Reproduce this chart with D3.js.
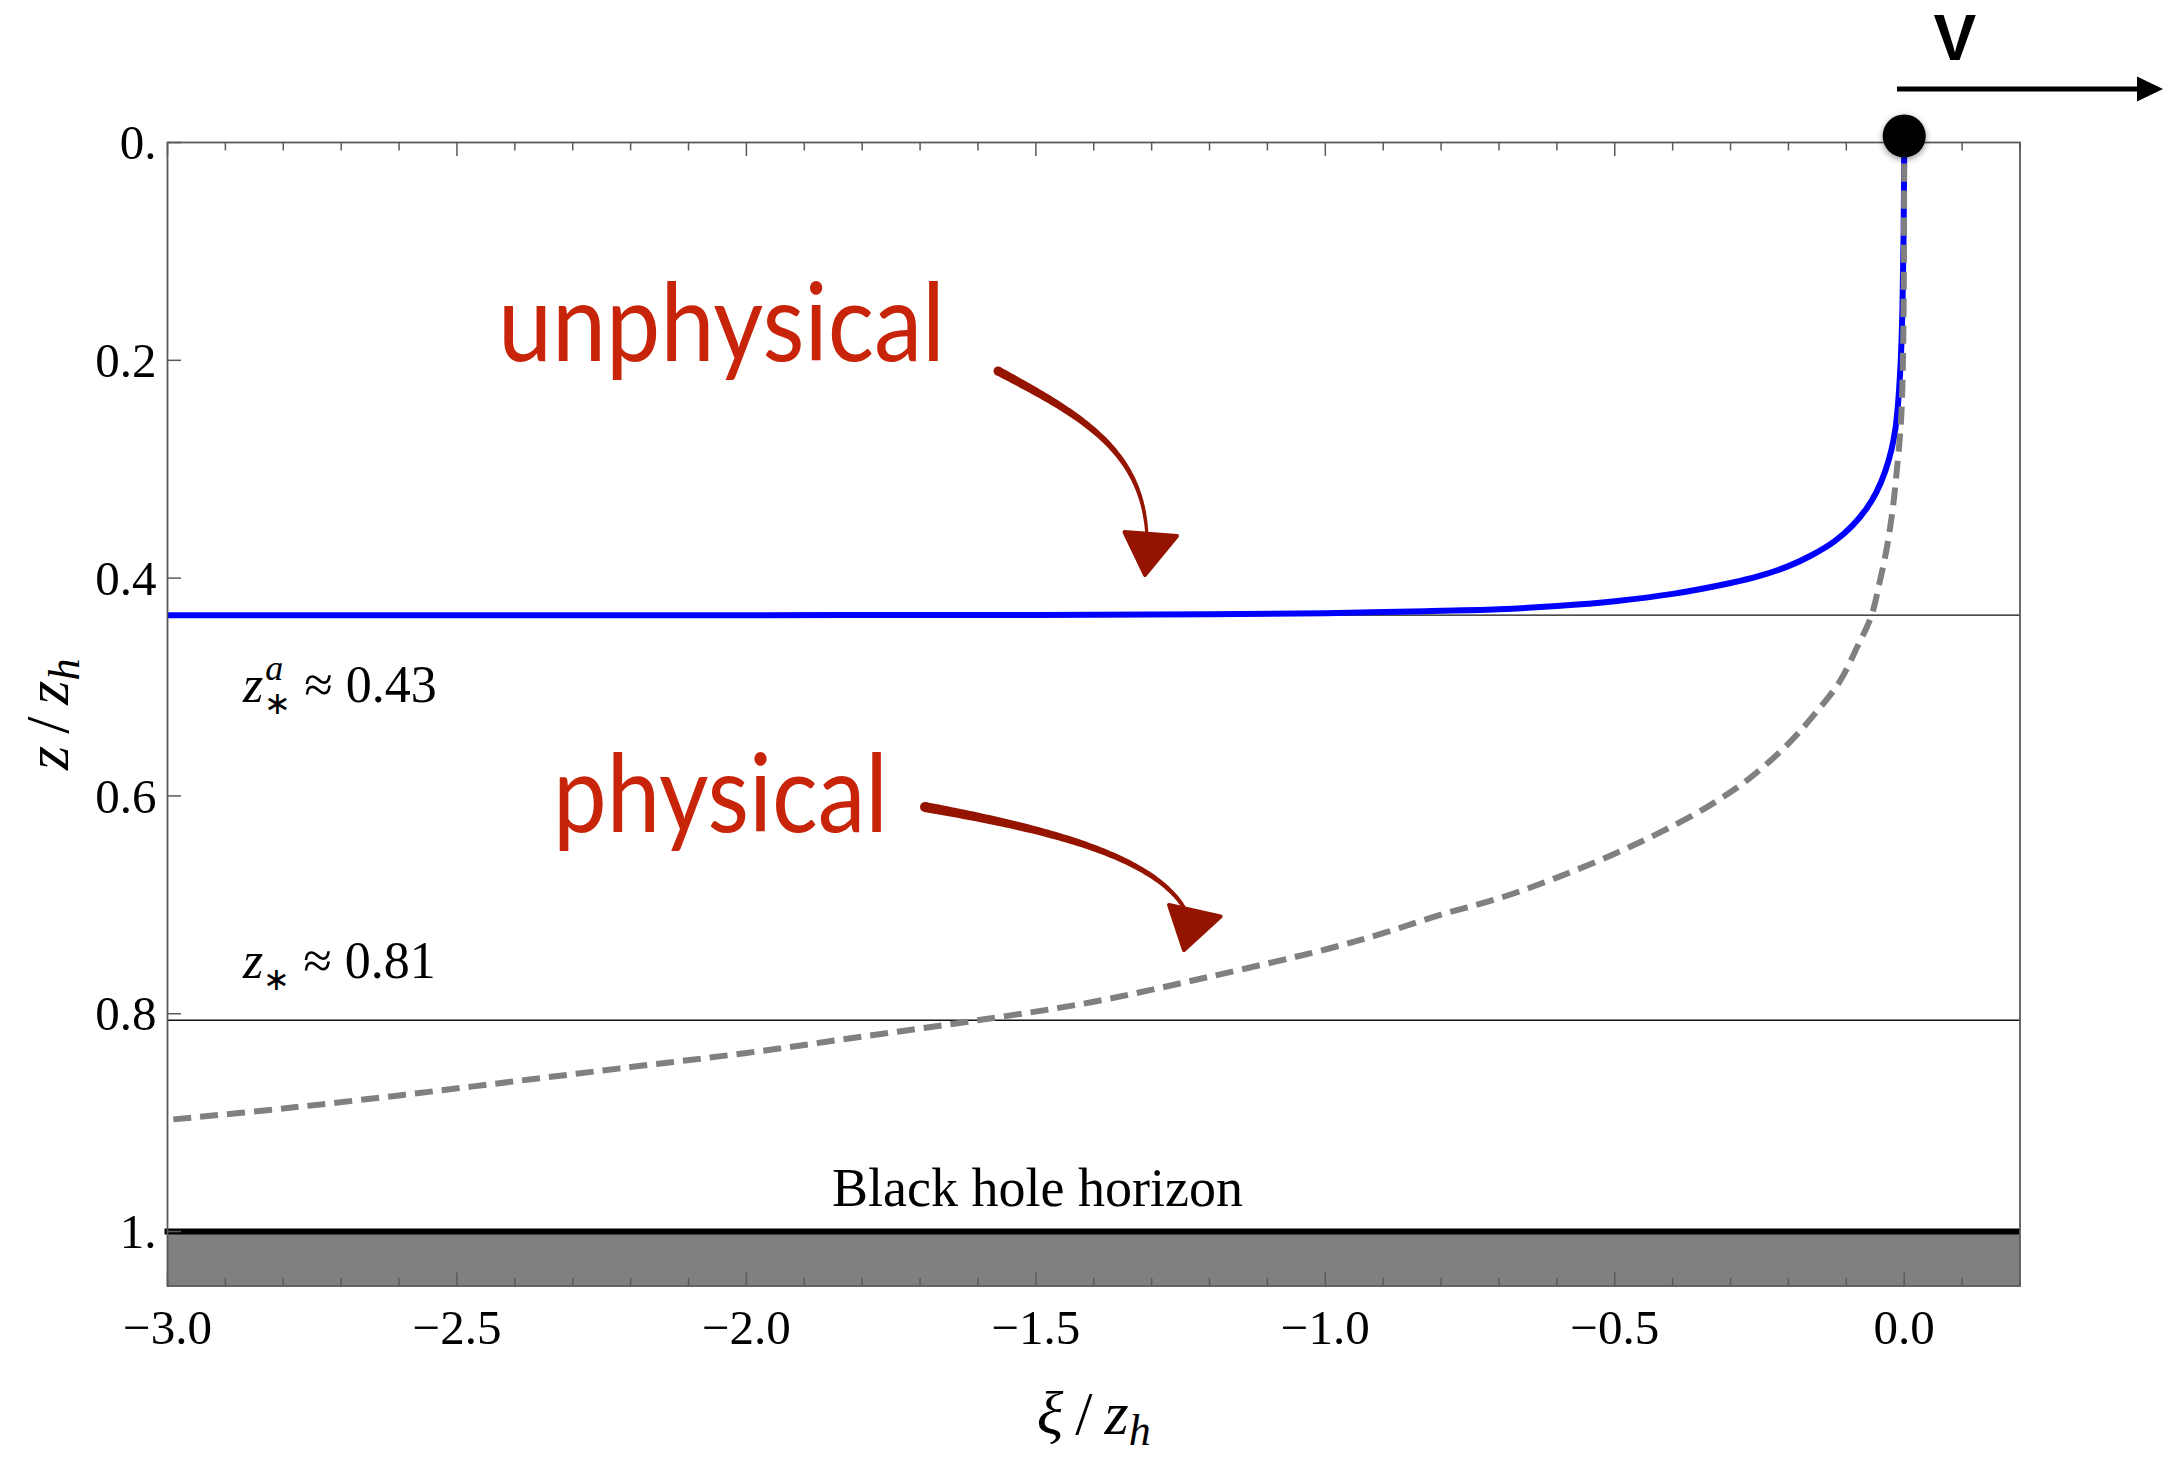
<!DOCTYPE html>
<html>
<head>
<meta charset="utf-8">
<script src="https://cdn.jsdelivr.net/npm/d3@7"></script>
<style>
  body { margin: 0; background: #fff; }
  svg { display: block; }
</style>
</head>
<body>
<svg id="chart" width="2164" height="1460"></svg>
<script>
// Unphysical embedding: blue solid curve, z/z_h versus xi/z_h
const unphysicalXi = [-3.0, -2.5, -2.0, -1.5, -1.2, -1.0, -0.85, -0.7, -0.6, -0.5, -0.4, -0.3, -0.25, -0.2, -0.16, -0.12, -0.09, -0.065, -0.048, -0.033, -0.022, -0.015, -0.011, -0.006, -0.003, -0.001, 0.0];
const unphysicalZ  = [0.434, 0.434, 0.434, 0.4338, 0.4332, 0.4322, 0.4306, 0.4285, 0.4256, 0.4212, 0.4145, 0.4045, 0.398, 0.389, 0.379, 0.366, 0.352, 0.336, 0.321, 0.302, 0.282, 0.262, 0.242, 0.200, 0.15, 0.08, 0.0];

// Physical embedding: gray dashed curve
const physicalXi = [-2.99, -2.8, -2.6, -2.4, -2.2, -2.0, -1.8, -1.6, -1.4, -1.2, -1.0, -0.9, -0.8, -0.7, -0.6, -0.5, -0.42, -0.34, -0.27, -0.2, -0.155, -0.112, -0.081, -0.057, -0.043, -0.03, -0.02, -0.013, -0.006, -0.003, -0.001, 0.0];
const physicalZ  = [0.897, 0.887, 0.875, 0.862, 0.849, 0.836, 0.821, 0.806, 0.789, 0.766, 0.741, 0.726, 0.709, 0.694, 0.675, 0.653, 0.633, 0.610, 0.585, 0.552, 0.525, 0.4955, 0.463, 0.435, 0.405, 0.372, 0.337, 0.302, 0.26, 0.22, 0.15, 0.0];

// Turning depths of the two embeddings and the horizon
const zStarUnphysical = 0.434;
const zStarPhysical = 0.806;
const zHorizon = 1.0;

// Axis ticks
const xTicks = [-3.0, -2.5, -2.0, -1.5, -1.0, -0.5, 0.0];
const xTickLabels = ["\u22123.0", "\u22122.5", "\u22122.0", "\u22121.5", "\u22121.0", "\u22120.5", "0.0"];
const xMinorTicks = d3.range(-30, 3).map(i => i / 10);
const yTicks = [0, 0.2, 0.4, 0.6, 0.8, 1.0];
const yTickLabels = ["0.", "0.2", "0.4", "0.6", "0.8", "1."];

const xDomain = [-3, 0.2];
const zDomain = [0, 1.05];

const svg = d3.select("#chart");
const x = d3.scaleLinear().domain(xDomain).range([167.5, 2020]);
const y = d3.scaleLinear().domain(zDomain).range([142.5, 1286]);

const serif = "'Liberation Serif', 'Times New Roman', serif";
const sans = "Lato, 'Open Sans', sans-serif";

const defs = svg.append("defs");
defs.append("clipPath").attr("id", "plotClip")
  .append("rect")
  .attr("x", x(xDomain[0])).attr("y", y(zDomain[0]) - 2)
  .attr("width", x(xDomain[1]) - x(xDomain[0]))
  .attr("height", y(zDomain[1]) - y(zDomain[0]) + 2);
const shadow = defs.append("filter").attr("id", "dotShadow")
  .attr("x", "-50%").attr("y", "-50%").attr("width", "200%").attr("height", "200%");
shadow.append("feDropShadow")
  .attr("dx", 0).attr("dy", 2).attr("stdDeviation", 3)
  .attr("flood-color", "#000").attr("flood-opacity", 0.45);

// Region behind the horizon
svg.append("rect")
  .attr("x", x(xDomain[0])).attr("y", y(zHorizon))
  .attr("width", x(xDomain[1]) - x(xDomain[0]))
  .attr("height", y(zDomain[1]) - y(zHorizon))
  .attr("fill", "#808080");

// Turning-depth reference lines
svg.selectAll("line.zstar")
  .data([zStarUnphysical, zStarPhysical])
  .join("line").attr("class", "zstar")
  .attr("x1", x(xDomain[0])).attr("x2", x(xDomain[1]))
  .attr("y1", d => y(d)).attr("y2", d => y(d))
  .attr("stroke", "#111").attr("stroke-width", 1.4);

const plot = svg.append("g").attr("clip-path", "url(#plotClip)");
const line = d3.line()
  .x(d => x(d[0])).y(d => y(d[1]))
  .curve(d3.curveCatmullRom.alpha(0.5));

plot.append("path")
  .datum(unphysicalXi.map((v, i) => [v, unphysicalZ[i]]))
  .attr("d", line)
  .attr("fill", "none").attr("stroke", "#0000ff").attr("stroke-width", 6);

plot.append("path")
  .datum(physicalXi.map((v, i) => [v, physicalZ[i]]))
  .attr("d", line)
  .attr("fill", "none").attr("stroke", "#808080").attr("stroke-width", 6)
  .attr("stroke-dasharray", "18,9");

// Horizon line
svg.append("line")
  .attr("x1", x(xDomain[0]) - 3).attr("x2", x(xDomain[1]))
  .attr("y1", y(zHorizon)).attr("y2", y(zHorizon))
  .attr("stroke", "#000").attr("stroke-width", 6);

// Frame
const frameColor = "#5a5a5a";
svg.append("rect")
  .attr("x", x(xDomain[0])).attr("y", y(zDomain[0]))
  .attr("width", x(xDomain[1]) - x(xDomain[0]))
  .attr("height", y(zDomain[1]) - y(zDomain[0]))
  .attr("fill", "none").attr("stroke", frameColor).attr("stroke-width", 1.8);

// Ticks on bottom and top edges (pointing inward)
const isMajor = v => xTicks.some(t => Math.abs(t - v) < 1e-9);
const tickG = svg.append("g").attr("stroke", frameColor).attr("stroke-width", 1.5);
[y(zDomain[1]), y(zDomain[0])].forEach((edge, k) => {
  const dir = k === 0 ? -1 : 1;
  tickG.selectAll(null)
    .data(xMinorTicks)
    .join("line")
    .attr("x1", d => x(d)).attr("x2", d => x(d))
    .attr("y1", edge)
    .attr("y2", d => edge + dir * (isMajor(d) ? 13.5 : 8));
});
// Ticks on left edge
tickG.selectAll(null)
  .data(yTicks)
  .join("line")
  .attr("x1", x(xDomain[0])).attr("x2", x(xDomain[0]) + 13.5)
  .attr("y1", d => y(d)).attr("y2", d => y(d));

// Tick labels
svg.append("g")
  .selectAll("text")
  .data(xTicks)
  .join("text")
  .attr("x", d => x(d)).attr("y", 1344)
  .attr("text-anchor", "middle")
  .attr("font-family", serif).attr("font-size", 49)
  .text((d, i) => xTickLabels[i]);

svg.append("g")
  .selectAll("text")
  .data(yTicks)
  .join("text")
  .attr("x", x(xDomain[0]) - 11).attr("y", d => y(d))
  .attr("dy", "0.34em")
  .attr("text-anchor", "end")
  .attr("font-family", serif).attr("font-size", 49)
  .text((d, i) => yTickLabels[i]);

// Axis titles
const xTitle = svg.append("text")
  .attr("x", (x(xDomain[0]) + x(xDomain[1])) / 2).attr("y", 1434)
  .attr("text-anchor", "middle")
  .attr("font-family", serif).attr("font-size", 62);
xTitle.append("tspan").attr("font-style", "italic").text("\u03be");
xTitle.append("tspan").attr("dx", 12).text("/");
xTitle.append("tspan").attr("dx", 12).attr("font-style", "italic").text("z");
xTitle.append("tspan").attr("font-style", "italic").attr("font-size", 44).attr("dy", 11).text("h");

const yMid = (y(zDomain[0]) + y(zDomain[1])) / 2;
const yTitle = svg.append("text")
  .attr("transform", `translate(68, ${yMid}) rotate(-90)`)
  .attr("text-anchor", "middle")
  .attr("font-family", serif).attr("font-size", 62);
yTitle.append("tspan").attr("font-style", "italic").text("z");
yTitle.append("tspan").attr("dx", 12).text("/");
yTitle.append("tspan").attr("dx", 12).attr("font-style", "italic").text("z");
yTitle.append("tspan").attr("font-style", "italic").attr("font-size", 44).attr("dy", 11).text("h");

// Turning-depth labels
const fmt = d3.format(".2f");
const labA = svg.append("text")
  .attr("x", x(-2.8696)).attr("y", y(0.5133))
  .attr("font-family", serif).attr("font-size", 52);
labA.append("tspan").attr("font-style", "italic").text("z");
labA.append("tspan").attr("font-style", "italic").attr("font-size", 36).attr("dx", 2).attr("dy", -22).text("a");
labA.append("tspan").attr("font-size", 32).attr("dx", -19).attr("dy", 34).text("\u2217");
labA.append("tspan").attr("dy", -12).text(" \u2248 " + fmt(zStarUnphysical));

const labP = svg.append("text")
  .attr("x", x(-2.8696)).attr("y", y(0.7676))
  .attr("font-family", serif).attr("font-size", 52);
labP.append("tspan").attr("font-style", "italic").text("z");
labP.append("tspan").attr("font-size", 32).attr("dy", 12).text("\u2217");
labP.append("tspan").attr("dy", -12).text(" \u2248 " + fmt(zStarPhysical));

svg.append("text")
  .attr("x", x(-1.8521)).attr("y", y(0.9765))
  .attr("font-family", serif).attr("font-size", 54)
  .text("Black hole horizon");

// Red annotations with hand-drawn arrows
const annRed = "#c8240a", arrowRed = "#941400";
svg.append("text")
  .attr("x", x(-2.4291)).attr("y", y(0.2006))
  .attr("font-family", sans).attr("font-size", 108).attr("fill", annRed)
  .attr("textLength", 447).attr("lengthAdjust", "spacingAndGlyphs")
  .text("unphysical");
svg.append("text")
  .attr("x", x(-2.3341)).attr("y", y(0.6331))
  .attr("font-family", sans).attr("font-size", 108).attr("fill", annRed)
  .attr("textLength", 335).attr("lengthAdjust", "spacingAndGlyphs")
  .text("physical");

const arrows = [
  { curve: [[-1.5654, 0.2098], [-1.4237, 0.2502], [-1.3115, 0.2824], [-1.3080, 0.3650]],
    head: [[-1.3469, 0.3577], [-1.2562, 0.3613], [-1.3115, 0.3971]], w: [9, 3] },
  { curve: [[-1.6915, 0.6102], [-1.4928, 0.6294], [-1.2855, 0.6542], [-1.2372, 0.7093]],
    head: [[-1.2700, 0.7001], [-1.1810, 0.7107], [-1.2441, 0.7415]], w: [10, 3.5] }
];

function taperedPath(pts, w0, w1) {
  const P = pts.map(p => [x(p[0]), y(p[1])]);
  const left = [], right = [];
  const n = 80;
  for (let i = 0; i <= n; i++) {
    const t = i / n, u = 1 - t;
    const px = u*u*u*P[0][0] + 3*u*u*t*P[1][0] + 3*u*t*t*P[2][0] + t*t*t*P[3][0];
    const py = u*u*u*P[0][1] + 3*u*u*t*P[1][1] + 3*u*t*t*P[2][1] + t*t*t*P[3][1];
    const dx = 3*u*u*(P[1][0]-P[0][0]) + 6*u*t*(P[2][0]-P[1][0]) + 3*t*t*(P[3][0]-P[2][0]);
    const dy = 3*u*u*(P[1][1]-P[0][1]) + 6*u*t*(P[2][1]-P[1][1]) + 3*t*t*(P[3][1]-P[2][1]);
    const len = Math.hypot(dx, dy) || 1;
    const nx = -dy / len, ny = dx / len;
    const w = (w0 + (w1 - w0) * t) / 2;
    left.push([px + nx * w, py + ny * w]);
    right.push([px - nx * w, py - ny * w]);
  }
  const all = left.concat(right.reverse());
  return "M" + all.map(p => p[0].toFixed(2) + "," + p[1].toFixed(2)).join("L") + "Z";
}

arrows.forEach(a => {
  svg.append("path").attr("d", taperedPath(a.curve, a.w[0], a.w[1])).attr("fill", arrowRed);
  svg.append("circle")
    .attr("cx", x(a.curve[0][0])).attr("cy", y(a.curve[0][1]))
    .attr("r", a.w[0] / 2).attr("fill", arrowRed);
  svg.append("polygon")
    .attr("points", a.head.map(p => [x(p[0]), y(p[1])].join(",")).join(" "))
    .attr("fill", arrowRed).attr("stroke", arrowRed)
    .attr("stroke-width", 4).attr("stroke-linejoin", "round");
});

// Probe at the boundary moving with velocity v
svg.append("circle")
  .attr("cx", x(0)).attr("cy", y(-0.006)).attr("r", 21.5)
  .attr("fill", "#000").attr("filter", "url(#dotShadow)");

const vArrowZ = -0.0491;
svg.append("line")
  .attr("x1", x(-0.0125)).attr("x2", x(0.405))
  .attr("y1", y(vArrowZ)).attr("y2", y(vArrowZ))
  .attr("stroke", "#000").attr("stroke-width", 5);
svg.append("polygon")
  .attr("points", [[x(0.4021), y(vArrowZ) - 12.5], [x(0.447), y(vArrowZ)], [x(0.4021), y(vArrowZ) + 12.5]]
    .map(p => p.join(",")).join(" "))
  .attr("fill", "#000");
svg.append("text")
  .attr("x", x(0.0873)).attr("y", y(-0.0758))
  .attr("text-anchor", "middle")
  .attr("font-family", "'Liberation Sans', Arial, sans-serif").attr("font-weight", 700).attr("font-size", 64)
  .text("V");
</script>
</body>
</html>
